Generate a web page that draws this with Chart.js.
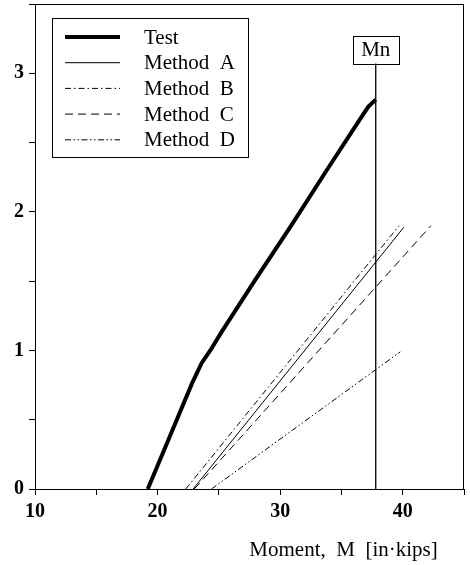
<!DOCTYPE html>
<html>
<head>
<meta charset="utf-8">
<script src="https://cdn.jsdelivr.net/npm/chart.js@4"></script>
<style>
  html, body { margin: 0; padding: 0; background: #fff; }
  #wrap { width: 470px; height: 565px; }
</style>
</head>
<body>
<div id="wrap"><canvas id="chart"></canvas></div>
<script>
// values
const testMoment = [19.2, 21.1, 22.8, 23.6, 24.3, 25.2, 27.9, 30.9, 33.8, 36.6, 37.2, 37.8];
const testValue = [0, 0.4, 0.76, 0.91, 1.0, 1.13, 1.5, 1.9, 2.3, 2.68, 2.76, 2.81];
const methodAMoment = [22.9, 40.1];
const methodAValue = [0, 1.89];
const methodBMoment = [22.3, 39.7];
const methodBValue = [0, 1.9];
const methodCMoment = [23.0, 42.3];
const methodCValue = [0, 1.9];
const methodDMoment = [24.4, 39.8];
const methodDValue = [0, 0.99];
const mnMoment = [37.8, 37.8];
const mnValue = [0, 3.07];
const legendLabels = ["Test", "Method  A", "Method  B", "Method  C", "Method  D"];

const serif = "'Liberation Serif', 'DejaVu Serif', serif";

function pts(xs, ys) {
  return xs.map((x, i) => ({ x: x, y: ys[i] }));
}

function line(label, xs, ys, width, dash) {
  return {
    label: label,
    data: pts(xs, ys),
    borderColor: "#000",
    borderWidth: width,
    borderDash: dash,
    pointRadius: 0,
    tension: 0,
    fill: false,
    showLegend: true
  };
}

// frame around the plot area
const framePlugin = {
  id: "frame",
  afterDraw(chart) {
    const { ctx, chartArea: a } = chart;
    ctx.save();
    ctx.strokeStyle = "#000";
    ctx.lineWidth = 1;
    ctx.strokeRect(a.left + 0.5, a.top + 0.5, a.right - a.left - 1, a.bottom - a.top);
    ctx.restore();
  }
};

// boxed legend inside the plot
const boxLegendPlugin = {
  id: "boxLegend",
  afterDraw(chart) {
    const { ctx, chartArea: a } = chart;
    const x0 = a.left + 17, y0 = a.top + 14;
    const rowH = 25.7;
    ctx.save();
    ctx.strokeStyle = "#000";
    ctx.lineWidth = 1;
    ctx.strokeRect(x0 + 0.5, y0 + 0.5, 196, 139);
    ctx.font = "21px " + serif;
    ctx.fillStyle = "#000";
    ctx.textBaseline = "middle";
    chart.data.datasets.filter(d => d.showLegend).forEach((d, i) => {
      const y = y0 + 19 + i * rowH;
      ctx.beginPath();
      ctx.lineWidth = d.borderWidth;
      ctx.setLineDash(d.borderDash || []);
      ctx.moveTo(x0 + 13, y);
      ctx.lineTo(x0 + 68, y);
      ctx.stroke();
      ctx.setLineDash([]);
      ctx.fillText(d.label, x0 + 92, y + 1);
    });
    ctx.restore();
  }
};

// "Mn" box on top of the nominal moment line
const mnPlugin = {
  id: "mnBox",
  afterDraw(chart) {
    const idx = chart.data.datasets.findIndex(d => d.label === "Mn");
    const meta = chart.getDatasetMeta(idx);
    const p = meta.data[meta.data.length - 1];
    const { ctx } = chart;
    const w = 46, h = 28;
    ctx.save();
    ctx.strokeStyle = "#000";
    ctx.lineWidth = 1;
    ctx.strokeRect(Math.round(p.x - w / 2) + 0.5, Math.round(p.y - h) + 0.5, w, h);
    ctx.font = "21px " + serif;
    ctx.fillStyle = "#000";
    ctx.textAlign = "center";
    ctx.textBaseline = "middle";
    ctx.fillText("Mn", p.x, p.y - h / 2 + 1);
    ctx.restore();
  }
};

const tickFont = { family: serif, size: 20, weight: "bold" };

new Chart(document.getElementById("chart"), {
  type: "line",
  data: {
    datasets: [
      line(legendLabels[0], testMoment, testValue, 4, []),
      line(legendLabels[1], methodAMoment, methodAValue, 1, []),
      line(legendLabels[2], methodBMoment, methodBValue, 1, [6, 3, 1.5, 3]),
      line(legendLabels[3], methodCMoment, methodCValue, 1, [8, 5]),
      line(legendLabels[4], methodDMoment, methodDValue, 1, [6, 2.5, 1.5, 2.5, 1.5, 2.5]),
      Object.assign(line("Mn", mnMoment, mnValue, 1.3, []), { showLegend: false })
    ]
  },
  options: {
    responsive: true,
    maintainAspectRatio: false,
    animation: false,
    layout: { padding: { top: 4, right: 6, left: 0, bottom: 0 } },
    plugins: {
      legend: { display: false },
      tooltip: { enabled: false }
    },
    scales: {
      x: {
        type: "linear",
        min: 10,
        max: 45,
        afterFit: s => { s.height = 76; s.paddingRight = 0; s.paddingLeft = 0; },
        ticks: {
          stepSize: 5,
          color: "#000",
          font: tickFont,
          padding: 5,
          maxRotation: 0,
          callback: v => (v % 10 === 0 ? v : "")
        },
        grid: { drawOnChartArea: false, tickLength: 6, color: "#000" },
        border: { color: "#000", width: 1 },
        title: {
          display: true,
          text: "Moment,  M  [in·kips]\u00a0\u00a0\u00a0\u00a0\u00a0",
          align: "end",
          color: "#000",
          font: { family: serif, size: 21 },
          padding: { top: 0, bottom: 2 }
        }
      },
      y: {
        type: "linear",
        min: 0,
        max: 3.5,
        afterFit: s => { s.width = 35; s.paddingTop = 0; s.paddingBottom = 0; },
        ticks: {
          stepSize: 0.5,
          color: "#000",
          font: tickFont,
          padding: 5,
          callback: v => (Number.isInteger(v) ? v : "")
        },
        grid: { drawOnChartArea: false, tickLength: 6, color: "#000" },
        border: { color: "#000", width: 1 }
      }
    }
  },
  plugins: [framePlugin, boxLegendPlugin, mnPlugin]
});
</script>
</body>
</html>
